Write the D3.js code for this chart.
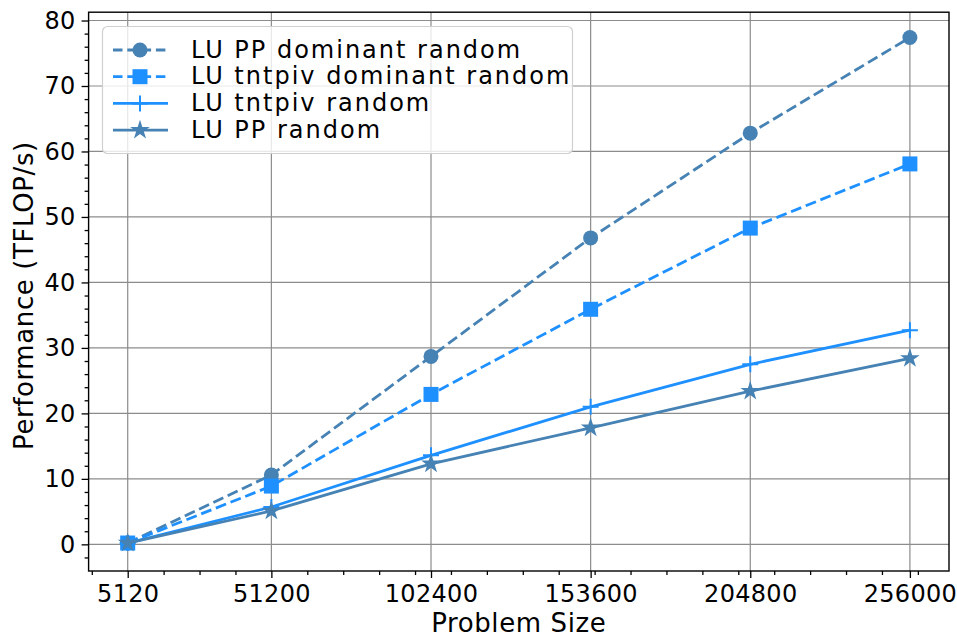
<!DOCTYPE html>
<html>
<head>
<meta charset="utf-8">
<script src="https://cdn.jsdelivr.net/npm/d3@7"></script>
<style>
  body { margin: 0; background: #fff; }
  svg { display: block; font-family: "DejaVu Sans", sans-serif; }
</style>
</head>
<body>
<svg id="vis" width="957" height="638"></svg>
<script>
// problem sizes on the x axis
const SIZES = [5120, 51200, 102400, 153600, 204800, 256000];

// performance (TFLOP/s) per series
const PP_DOMINANT = [0.2, 10.6, 28.7, 46.8, 62.8, 77.4];
const TNTPIV_DOMINANT = [0.2, 8.9, 22.9, 35.9, 48.3, 58.1];
const TNTPIV_RANDOM = [0.2, 5.7, 13.6, 21.0, 27.5, 32.7];
const PP_RANDOM = [0.2, 5.1, 12.3, 17.8, 23.4, 28.4];

const SERIES_NAMES = ["LU PP dominant random", "LU tntpiv dominant random", "LU tntpiv random", "LU PP random"];

const Y_TICKS = [0, 10, 20, 30, 40, 50, 60, 70, 80];

const MARGINS = {top: 12.2, right: 8, bottom: 67, left: 88.6};

var width = 957, height = 638;
var svg = d3.select("#vis");

var series = [
    {name: SERIES_NAMES[0], values: PP_DOMINANT, color: "#4682b4", dash: "11,4.8", marker: "circle"},
    {name: SERIES_NAMES[1], values: TNTPIV_DOMINANT, color: "#1e90ff", dash: "11,4.8", marker: "square"},
    {name: SERIES_NAMES[2], values: TNTPIV_RANDOM, color: "#1e90ff", dash: null, marker: "plus"},
    {name: SERIES_NAMES[3], values: PP_RANDOM, color: "#4682b4", dash: null, marker: "star"}
];

// matplotlib-like 5% margins
var xMin = d3.min(SIZES), xMax = d3.max(SIZES);
var xPad = (xMax - xMin) * 0.05;
var allY = [].concat(PP_DOMINANT, TNTPIV_DOMINANT, TNTPIV_RANDOM, PP_RANDOM);
var yLo = Math.min(0, d3.min(allY)), yHi = d3.max(allY);
var yPad = (yHi - yLo) * 0.05;

var x = d3.scaleLinear()
    .domain([xMin - xPad, xMax + xPad])
    .range([MARGINS.left, width - MARGINS.right]);
var y = d3.scaleLinear()
    .domain([yLo - yPad - 0.2, yHi + yPad])
    .range([height - MARGINS.bottom, MARGINS.top]);

var plotLeft = MARGINS.left, plotRight = width - MARGINS.right;
var plotTop = MARGINS.top, plotBottom = height - MARGINS.bottom;

// grid
var grid = svg.append("g").attr("class", "grid");
grid.selectAll("line.gx")
    .data(SIZES)
    .enter().append("line")
    .attr("x1", d => x(d)).attr("x2", d => x(d))
    .attr("y1", plotTop).attr("y2", plotBottom)
    .attr("stroke", "#8c8c8c").attr("stroke-width", 1.2);
grid.selectAll("line.gy")
    .data(Y_TICKS)
    .enter().append("line")
    .attr("x1", plotLeft).attr("x2", plotRight)
    .attr("y1", d => y(d)).attr("y2", d => y(d))
    .attr("stroke", "#8c8c8c").attr("stroke-width", 1.2);

// axes
var xAxis = d3.axisBottom(x).tickValues(SIZES).tickSize(7).tickPadding(7).tickFormat(d3.format("d"));
var yAxis = d3.axisLeft(y).tickValues(Y_TICKS).tickSize(7).tickPadding(6);

// minor ticks: x from auto-minor of first major step, y every 2
var xStep = (SIZES[1] - SIZES[0]) / 4;
var xMinor = d3.range(-1, 30).map(k => SIZES[0] + k * xStep)
    .filter(v => v >= x.domain()[0] && v <= x.domain()[1] && SIZES.indexOf(v) < 0);
var yMinor = d3.range(-2, 82, 2).filter(v => v % 10 !== 0 && v >= y.domain()[0] && v <= y.domain()[1]);

var gx = svg.append("g")
    .attr("transform", `translate(0, ${plotBottom})`)
    .call(xAxis);
var gy = svg.append("g")
    .attr("transform", `translate(${plotLeft}, 0)`)
    .call(yAxis);

svg.append("g")
    .attr("transform", `translate(0, ${plotBottom})`)
    .call(d3.axisBottom(x).tickValues(xMinor).tickSize(4).tickFormat(""));
svg.append("g")
    .attr("transform", `translate(${plotLeft}, 0)`)
    .call(d3.axisLeft(y).tickValues(yMinor).tickSize(4).tickFormat(""));

svg.selectAll(".domain").remove();
svg.selectAll(".tick line").attr("stroke", "#000").attr("stroke-width", 1.3);
svg.selectAll(".tick text").attr("fill", "#000")
    .style("font-size", "24px").style("letter-spacing", "0.3px")
    .style("font-family", "DejaVu Sans");

// frame
svg.append("rect")
    .attr("x", plotLeft).attr("y", plotTop)
    .attr("width", plotRight - plotLeft).attr("height", plotBottom - plotTop)
    .attr("fill", "none").attr("stroke", "#000").attr("stroke-width", 1.4);

// axis labels
svg.append("text")
    .attr("x", (plotLeft + plotRight) / 2)
    .attr("y", 632)
    .attr("text-anchor", "middle")
    .style("font-size", "26px").style("letter-spacing", "0.6px")
    .text("Problem Size");
svg.append("text")
    .attr("transform", `translate(33, ${(plotTop + plotBottom) / 2 + 4}) rotate(-90)`)
    .attr("text-anchor", "middle")
    .style("font-size", "26px").style("letter-spacing", "0.6px")
    .text("Performance (TFLOP/s)");

// markers
function drawMarker(g, type, color, cx, cy) {
    if (type === "circle") {
        g.append("circle").attr("cx", cx).attr("cy", cy).attr("r", 7.5).attr("fill", color);
    } else if (type === "square") {
        g.append("rect").attr("x", cx - 7.5).attr("y", cy - 7.5).attr("width", 15).attr("height", 15).attr("fill", color);
    } else if (type === "plus") {
        g.append("path")
            .attr("d", `M${cx - 8},${cy}H${cx + 8}M${cx},${cy - 8}V${cy + 8}`)
            .attr("stroke", color).attr("stroke-width", 2).attr("fill", "none");
    } else if (type === "star") {
        g.append("path")
            .attr("d", d3.symbol().type(d3.symbolStar).size(120)())
            .attr("transform", `translate(${cx},${cy})`)
            .attr("fill", color);
    }
}

var line = d3.line()
    .x((d, i) => x(SIZES[i]))
    .y(d => y(d));

series.forEach(function(s) {
    var g = svg.append("g");
    g.append("path")
        .datum(s.values)
        .attr("d", line)
        .attr("fill", "none")
        .attr("stroke", s.color)
        .attr("stroke-width", 2.8)
        .attr("stroke-dasharray", s.dash);
    s.values.forEach(function(v, i) {
        drawMarker(g, s.marker, s.color, x(SIZES[i]), y(v));
    });
});

// legend
var legend = svg.append("g").attr("class", "legend");
legend.append("rect")
    .attr("x", 102.5).attr("y", 26.5)
    .attr("width", 470).attr("height", 127)
    .attr("rx", 5).attr("ry", 5)
    .attr("fill", "#fff").attr("fill-opacity", 0.8)
    .attr("stroke", "#d0d0d0").attr("stroke-width", 1.2);

series.forEach(function(s, i) {
    var cy = 50 + i * 26.7;
    legend.append("line")
        .attr("x1", 113).attr("x2", 168)
        .attr("y1", cy).attr("y2", cy)
        .attr("stroke", s.color).attr("stroke-width", 2.8)
        .attr("stroke-dasharray", s.dash ? "9.5,4.8" : null);
    drawMarker(legend, s.marker, s.color, 140, cy);
    legend.append("text")
        .attr("x", 191)
        .attr("y", cy + 7.5)
        .style("font-size", "24px").style("letter-spacing", "2px")
        .text(s.name);
});
</script>
</body>
</html>
